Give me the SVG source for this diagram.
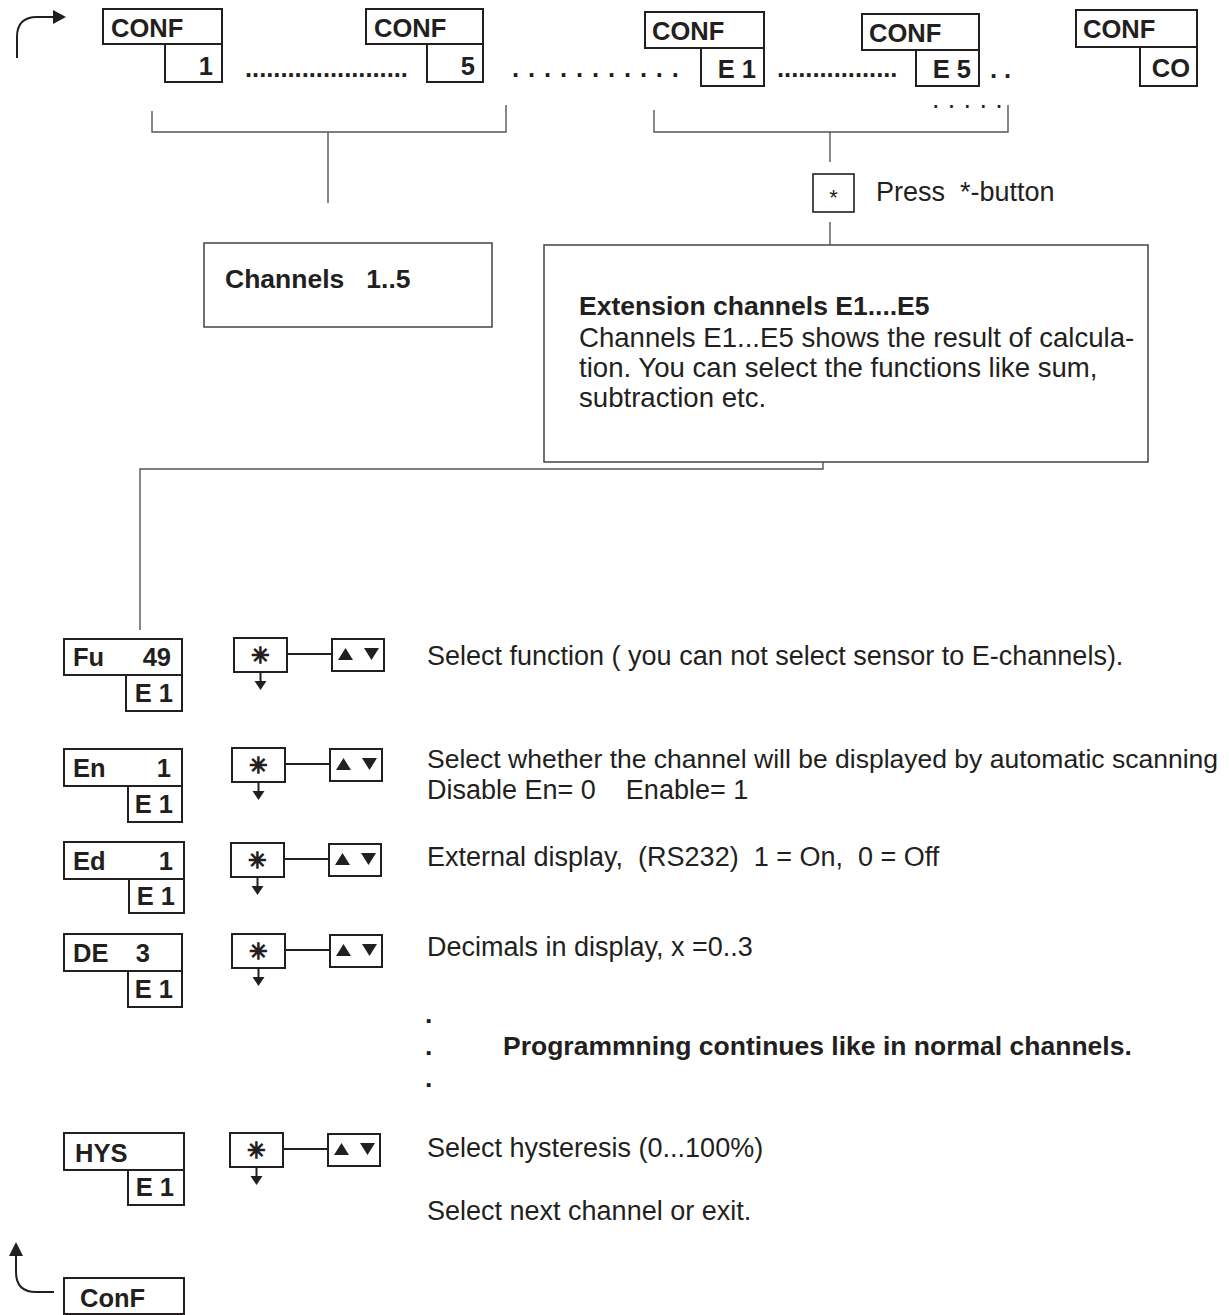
<svg xmlns="http://www.w3.org/2000/svg" width="1229" height="1315" viewBox="0 0 1229 1315">
<style>
.bx{fill:#fff;stroke:#231f20;stroke-width:2}
.fr{fill:#fff;stroke:#444;stroke-width:1.5}
.ln{fill:none;stroke:#555;stroke-width:1.4}
.bl{fill:none;stroke:#231f20;stroke-width:2}
.ar{fill:#231f20}
.lb{font-family:"Liberation Sans",Arial,sans-serif;font-weight:bold;font-size:25.5px;fill:#231f20}
.tx{font-family:"Liberation Sans",Arial,sans-serif;font-size:27px;fill:#231f20}
.xt{font-family:"Liberation Sans",Arial,sans-serif;font-size:27.6px;fill:#231f20}
.hd{font-family:"Liberation Sans",Arial,sans-serif;font-weight:bold;font-size:26.5px;fill:#231f20}
.st{font-family:"DejaVu Sans",sans-serif;font-weight:bold;font-size:22px;fill:#231f20;stroke:#231f20;stroke-width:1.3;text-anchor:middle}
.e{text-anchor:end}
</style>
<defs>
<g id="btn">
<rect class="bx" x="0" y="0" width="53" height="34"/>
<text class="st" x="26.5" y="25">✳</text>
<path class="bl" d="M53,16H98M124,1V33M26.5,34V44"/>
<rect class="bx" x="98" y="1" width="52" height="32"/>
<polygon class="ar" points="104,22 111.5,10 119,22"/>
<polygon class="ar" points="130,10 145,10 137.5,22"/>
<polygon class="ar" points="20.5,43 32.5,43 26.5,52"/>
</g>
</defs>

<g id="connectors">
<path class="bl" d="M17,58V37Q17,17 37,17H54"/>
<polygon class="ar" points="53,10 66,17 53,24"/>
<path class="ln" d="M152,111V132H506V105M328,132V203"/>
<path class="ln" d="M654,110V132H1008V105M830,132V162M830,222V245"/>
<path class="ln" d="M823,462V469H140V630"/>
<path class="bl" d="M16,1256V1272Q16,1292 36,1292H54"/>
<polygon class="ar" points="9,1256 16,1242 23,1256"/>
</g>

<g id="conf1">
<rect class="bx" x="103" y="9" width="119" height="35"/>
<rect class="bx" x="165" y="44" width="57" height="38"/>
<text class="lb" x="111" y="37">CONF</text>
<text class="lb e" x="213" y="75">1</text>
</g>
<g id="conf5">
<rect class="bx" x="366" y="9" width="117" height="35"/>
<rect class="bx" x="427" y="44" width="56" height="38"/>
<text class="lb" x="374" y="37">CONF</text>
<text class="lb e" x="475" y="75">5</text>
</g>
<g id="confE1">
<rect class="bx" x="645" y="12" width="119" height="36"/>
<rect class="bx" x="701" y="48" width="63" height="38"/>
<text class="lb" x="652" y="40">CONF</text>
<text class="lb e" x="756" y="78">E 1</text>
</g>
<g id="confE5">
<rect class="bx" x="862" y="14" width="117" height="36"/>
<rect class="bx" x="916" y="50" width="63" height="36"/>
<text class="lb" x="869" y="42">CONF</text>
<text class="lb e" x="971" y="78">E 5</text>
</g>
<g id="confCO">
<rect class="bx" x="1076" y="10" width="121" height="37"/>
<rect class="bx" x="1140" y="47" width="57" height="39"/>
<text class="lb" x="1083" y="38">CONF</text>
<text class="lb e" x="1190" y="77">CO</text>
</g>

<g id="dots">
<text class="lb" x="245" y="77">.......................</text>
<text class="lb" x="512" y="77" letter-spacing="8.9">...........</text>
<text class="lb" x="777" y="77">.................</text>
<text class="lb" x="990" y="78" letter-spacing="7">..</text>
<text class="tx" x="932" y="108" letter-spacing="8.3">.....</text>
</g>

<g id="press">
<rect class="bx" x="813" y="174" width="41" height="38" style="stroke-width:1.6"/>
<text class="tx" x="833.5" y="205" text-anchor="middle" style="font-size:22px">*</text>
<text class="tx" x="876" y="201" xml:space="preserve">Press  *-button</text>
</g>

<g id="channels">
<rect class="fr" x="204" y="243" width="288" height="84"/>
<text class="hd" x="225" y="288" xml:space="preserve">Channels   1..5</text>
</g>

<g id="extension">
<rect class="fr" x="544" y="245" width="604" height="217"/>
<text class="hd" x="579" y="315">Extension channels E1....E5</text>
<text class="xt" x="579" y="347">Channels E1...E5 shows the result of calcula-</text>
<text class="xt" x="579" y="377">tion. You can select the functions like sum,</text>
<text class="xt" x="579" y="407">subtraction etc.</text>
</g>

<g id="fu">
<rect class="bx" x="64" y="639" width="118" height="36"/>
<rect class="bx" x="126" y="675" width="56" height="36"/>
<text class="lb" x="73" y="666">Fu</text>
<text class="lb e" x="171" y="666">49</text>
<text class="lb e" x="173" y="702">E 1</text>
<use href="#btn" x="234" y="638"/>
<text class="tx" x="427" y="665">Select function ( you can not select sensor to E-channels).</text>
</g>

<g id="en">
<rect class="bx" x="64" y="749" width="118" height="37"/>
<rect class="bx" x="128" y="786" width="54" height="36"/>
<text class="lb" x="73" y="777">En</text>
<text class="lb e" x="171" y="777">1</text>
<text class="lb e" x="173" y="813">E 1</text>
<use href="#btn" x="232" y="748"/>
<text class="tx" x="427" y="768" style="font-size:26.5px">Select whether the channel will be displayed by automatic scanning</text>
<text class="tx" x="427" y="799" xml:space="preserve">Disable En= 0    Enable= 1</text>
</g>

<g id="ed">
<rect class="bx" x="64" y="842" width="120" height="37"/>
<rect class="bx" x="129" y="879" width="55" height="34"/>
<text class="lb" x="73" y="870">Ed</text>
<text class="lb e" x="173" y="870">1</text>
<text class="lb e" x="175" y="905">E 1</text>
<use href="#btn" x="231" y="843"/>
<text class="tx" x="427" y="866" xml:space="preserve">External display,  (RS232)  1 = On,  0 = Off</text>
</g>

<g id="de">
<rect class="bx" x="64" y="934" width="118" height="37"/>
<rect class="bx" x="128" y="971" width="54" height="36"/>
<text class="lb" x="73" y="962">DE</text>
<text class="lb e" x="150" y="962">3</text>
<text class="lb e" x="173" y="998">E 1</text>
<use href="#btn" x="232" y="934"/>
<text class="tx" x="427" y="956">Decimals in display, x =0..3</text>
</g>

<g id="cont">
<text class="hd" x="425" y="1023">.</text>
<text class="hd" x="425" y="1055">.</text>
<text class="hd" x="425" y="1087">.</text>
<text class="hd" x="503" y="1055">Programmning continues like in normal channels.</text>
</g>

<g id="hys">
<rect class="bx" x="64" y="1133" width="120" height="37"/>
<rect class="bx" x="128" y="1170" width="56" height="35"/>
<text class="lb" x="75" y="1162">HYS</text>
<text class="lb e" x="174" y="1196">E 1</text>
<use href="#btn" x="230" y="1133"/>
<text class="tx" x="427" y="1157">Select hysteresis (0...100%)</text>
<text class="tx" x="427" y="1220">Select next channel or exit.</text>
</g>

<g id="conf_end">
<rect class="bx" x="64" y="1278" width="120" height="36"/>
<text class="lb" x="80" y="1307">ConF</text>
</g>
</svg>
